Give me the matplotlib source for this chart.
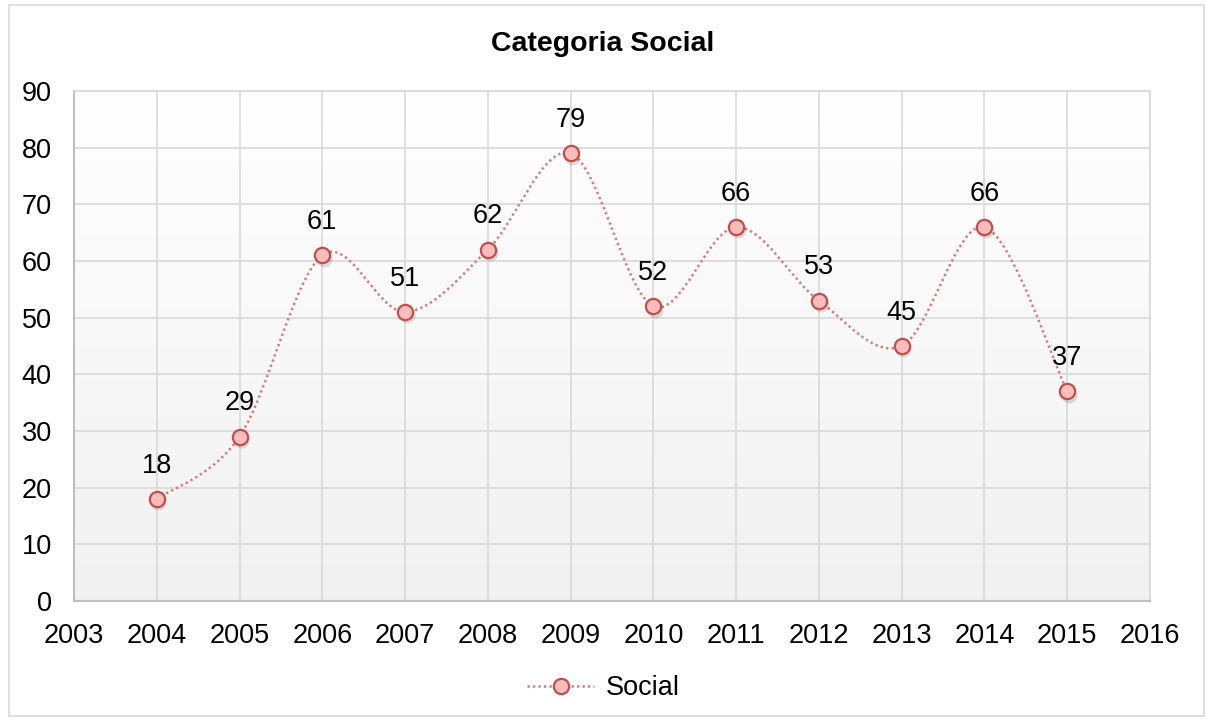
import numpy as np
import matplotlib
matplotlib.use("Agg")
import matplotlib.pyplot as plt
from matplotlib.path import Path
from matplotlib.patches import PathPatch, Rectangle
from matplotlib.lines import Line2D

plt.rcParams['font.family'] = ['Liberation Sans', 'DejaVu Sans']

# ---------------- data
years = [2004, 2005, 2006, 2007, 2008, 2009, 2010, 2011, 2012, 2013, 2014, 2015]
social = [18, 29, 61, 51, 62, 79, 52, 66, 53, 45, 66, 37]
seriesName = 'Social'
chartTitle = 'Categoria Social'

lineColor = '#d9777a'
markerEdge = '#c0504d'
markerFace = '#f9bcbc'
gridColor = '#d9d9d9'

fig = plt.figure(figsize=(12.06, 7.24), dpi=100)
ax = fig.add_axes([74/1206, 1-601/724, (1150-74)/1206, (601-91)/724])

# light vertical gradient behind the plot area
grad = np.linspace(1.0, 0.0, 256).reshape(-1, 1)
ax.imshow(grad, extent=[0, 1, 0, 1], transform=ax.transAxes, aspect='auto',
          cmap=matplotlib.colors.LinearSegmentedColormap.from_list('bg', ['#f1f1f1', '#ffffff']),
          zorder=0, interpolation='bicubic')

ax.set_xlim(2003, 2016)
ax.set_ylim(0, 90)
ax.set_xticks(range(2003, 2017))
ax.set_yticks(range(0, 91, 10))
ax.grid(True, color=gridColor, linewidth=1.2, zorder=1)
ax.set_axisbelow(True)
ax.tick_params(length=0, labelsize=19.5)
ax.tick_params(axis='x', pad=16)
ax.tick_params(axis='y', pad=16)
for side in ['top', 'right']:
    ax.spines[side].set_color(gridColor)
    ax.spines[side].set_linewidth(1.2)
for side in ['left', 'bottom']:
    ax.spines[side].set_color('#bfbfbf')
    ax.spines[side].set_linewidth(1.5)

# smoothed line: cubic bezier segments, catmull-rom style control points
xs = np.array(years, dtype=float)
ys = np.array(social, dtype=float)
n = len(xs)
verts = [(xs[0], ys[0])]
codes = [Path.MOVETO]
for i in range(n - 1):
    i0 = max(i - 1, 0)
    i3 = min(i + 2, n - 1)
    c1 = (xs[i] + (xs[i+1] - xs[i0]) / 6, ys[i] + (ys[i+1] - ys[i0]) / 6)
    c2 = (xs[i+1] - (xs[i3] - xs[i]) / 6, ys[i+1] - (ys[i3] - ys[i]) / 6)
    verts += [c1, c2, (xs[i+1], ys[i+1])]
    codes += [Path.CURVE4] * 3
curve = PathPatch(Path(verts, codes), facecolor='none', edgecolor=lineColor,
                  linewidth=1.8, linestyle=(0, (0.9, 1.3)), zorder=3)
ax.add_patch(curve)

# marker shadows then markers
ax.plot(xs + 0.02, ys - 0.6, 'o', ms=11.5, color='#000000', alpha=0.12, mew=0, zorder=3.5)
ax.plot(xs, ys, 'o', ms=11, mfc=markerFace, mec=markerEdge, mew=1.6, ls='none', zorder=4)

for x, y in zip(years, social):
    ax.annotate(str(y), (x, y), xytext=(0, 24), textcoords='offset points',
                ha='center', va='center', fontsize=19.5, zorder=5)

fig.text(0.5, 1-44/724, chartTitle, ha='center', va='center', fontsize=20.5, fontweight='bold')

handle = Line2D([], [], color=lineColor, linewidth=1.8, linestyle=(0, (0.9, 1.3)),
                marker='o', ms=11, mfc=markerFace, mec=markerEdge, mew=1.6)
fig.legend([handle], [seriesName], loc='center', bbox_to_anchor=(0.5, 1-688/724),
           frameon=False, fontsize=19.5, handlelength=2.5, handletextpad=0.4)

# chart border
fig.patches.append(Rectangle((9/1206, 1-716/724), 1195/1206, 711/724, transform=fig.transFigure,
                             fill=False, edgecolor='#d9d9d9', linewidth=1.2))

fig.savefig('out.png', dpi=100)
